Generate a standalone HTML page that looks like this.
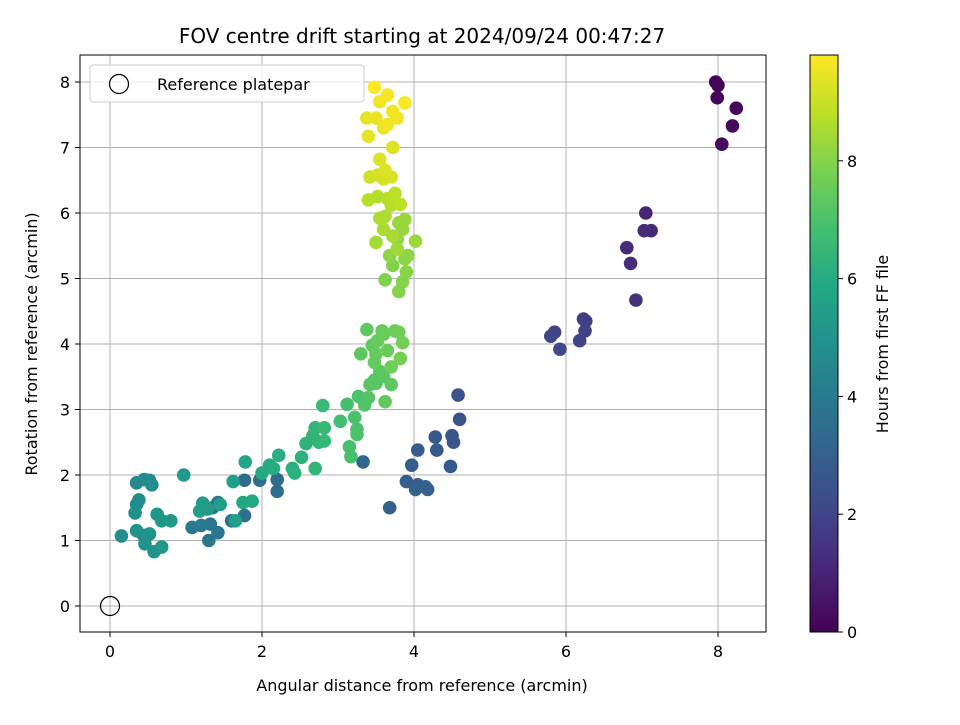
<!DOCTYPE html>
<html><head><meta charset="utf-8"><style>
body{margin:0;background:#fff;font-family:"Liberation Sans","DejaVu Sans",sans-serif;}
svg text{font-family:"DejaVu Sans","Liberation Sans",sans-serif;fill:#000}
</style></head><body>
<svg id="chart" width="960" height="720" xmlns="http://www.w3.org/2000/svg">
<defs><linearGradient id="vir" x1="0" y1="1" x2="0" y2="0">
<stop offset="0" stop-color="#440154"/><stop offset="0.1" stop-color="#482475"/><stop offset="0.2" stop-color="#414487"/><stop offset="0.3" stop-color="#355f8d"/><stop offset="0.4" stop-color="#2a788e"/><stop offset="0.5" stop-color="#21918c"/><stop offset="0.6" stop-color="#22a884"/><stop offset="0.7" stop-color="#44bf70"/><stop offset="0.8" stop-color="#7ad151"/><stop offset="0.9" stop-color="#bddf26"/><stop offset="1" stop-color="#fde725"/>
</linearGradient></defs>
<text x="422" y="43" font-size="20" text-anchor="middle">FOV centre drift starting at 2024/09/24 00:47:27</text>
<g id="grid"></g>
<g id="pts"></g>
<rect x="80" y="55" width="686" height="577" fill="none" stroke="#000" stroke-width="1"/>
<g id="ticks"></g>
<text x="422" y="691" font-size="16" text-anchor="middle">Angular distance from reference (arcmin)</text>
<text x="37" y="344" font-size="16" text-anchor="middle" transform="rotate(-90 37 344)">Rotation from reference (arcmin)</text>
<g>
<rect x="90" y="65" width="274" height="37" rx="3" fill="#fff" fill-opacity="0.8" stroke="#ccc"/>
<circle cx="119" cy="84" r="9.5" fill="none" stroke="#000" stroke-width="1.2"/>
<text x="157" y="90" font-size="16">Reference platepar</text>
</g>
<rect x="810" y="55" width="28" height="577" fill="url(#vir)" stroke="#000" stroke-width="1"/>
<g id="cbticks"></g>
<text x="888" y="344" font-size="16" text-anchor="middle" transform="rotate(-90 888 344)">Hours from first FF file</text>
</svg>
<script>
const xTicks=[0,2,4,6,8];
const yTicks=[0,1,2,3,4,5,6,7,8];
const cTicks=[0,2,4,6,8];
const xs=[7.97,8.0,7.99,8.24,8.19,8.05, 7.05,7.12,7.03,6.8,6.85,6.92, 6.23,6.26,6.25,6.18,5.85,5.8,5.92,
4.58,4.6,4.5,4.52,4.28,4.3,4.05,3.97,4.48,3.9,4.05,4.15,4.18,4.02,3.68,3.33,
1.77,2.2,2.2,1.97,1.77,1.6,1.42,1.42,1.32,1.3,1.35,1.2,1.08,
0.35,0.45,0.52,0.55,0.38,0.35,0.33,0.35,0.44,0.52,0.46,0.58,0.62,0.68,0.68,0.8,0.15,0.97,1.22,1.28,1.18,1.45,1.62,1.65,
1.78,1.75,1.87,2.0,2.1,2.15,2.22,2.4,2.43,2.52,2.58,2.67,2.7,2.7,2.75,2.82,2.82,2.8,
3.03,3.12,3.15,3.17,3.22,3.25,3.27,3.25,3.35,3.4,3.42,3.48,3.5,3.55,3.6,3.7,3.62,3.3,3.38,3.45,3.5,3.52,3.58,3.6,3.65,3.7,3.75,3.8,3.85,3.82,3.48,
3.62,3.72,3.8,3.85,3.9,3.88,3.92,3.68,3.78,3.85,3.88,3.8,4.02,3.78,3.5,3.72,3.6,3.55,3.62,3.7,3.4,3.52,3.65,3.75,3.82,
3.42,3.52,3.6,3.7,3.62,3.55,3.72,3.4,3.38,3.5,3.6,3.65,3.72,3.78,3.55,3.65,3.88,3.48];
const ys=[8.0,7.95,7.76,7.6,7.33,7.05, 6.0,5.73,5.73,5.47,5.23,4.67, 4.38,4.35,4.2,4.05,4.18,4.12,3.92,
3.22,2.85,2.6,2.5,2.58,2.38,2.38,2.15,2.13,1.9,1.85,1.82,1.78,1.78,1.5,2.2,
1.92,1.93,1.75,1.92,1.38,1.3,1.58,1.12,1.25,1.0,1.5,1.23,1.2,
1.88,1.93,1.92,1.85,1.62,1.55,1.42,1.15,1.08,1.1,0.95,0.83,1.4,1.3,0.9,1.3,1.07,2.0,1.57,1.48,1.45,1.55,1.9,1.3,
2.2,1.58,1.6,2.03,2.15,2.1,2.3,2.1,2.03,2.27,2.48,2.6,2.1,2.72,2.5,2.52,2.72,3.06,
2.82,3.08,2.43,2.28,2.88,2.7,3.2,2.62,3.07,3.18,3.38,3.45,3.4,3.58,3.5,3.38,3.12,3.85,4.22,3.98,3.85,4.05,4.2,4.15,3.9,3.65,4.2,4.18,4.02,3.78,3.72,
4.98,5.2,4.8,4.95,5.1,5.3,5.35,5.35,5.6,5.75,5.9,5.85,5.57,5.45,5.55,5.65,5.75,5.92,5.95,6.12,6.2,6.25,6.22,6.3,6.13,
6.55,6.58,6.52,6.55,6.65,6.82,7.0,7.17,7.45,7.45,7.3,7.35,7.55,7.45,7.7,7.8,7.68,7.92];
const hours=[0.05,0.1,0.15,0.2,0.25,0.3, 1.0,1.1,1.15,1.2,1.3,1.4, 1.8,1.85,1.9,1.95,2.0,2.05,2.1,
2.5,2.55,2.6,2.65,2.7,2.75,2.8,2.85,2.75,2.9,2.95,3.0,3.0,3.05,3.1,3.3,
3.4,3.45,3.5,3.55,3.6,3.7,3.75,3.8,3.85,3.9,3.9,3.95,4.0,
4.6,4.65,4.7,4.7,4.75,4.8,4.85,4.9,4.95,5.0,5.0,5.05,5.1,5.15,5.2,5.25,4.7,5.3,5.35,5.35,5.4,5.45,5.5,5.5,
5.8,5.85,5.9,5.95,6.0,6.05,6.1,6.15,6.2,6.25,6.3,6.35,6.4,6.4,6.45,6.5,6.5,6.55,
6.8,6.85,6.9,6.9,6.95,7.0,7.0,7.05,7.1,7.15,7.2,7.2,7.25,7.3,7.3,7.35,7.4,7.3,7.35,7.4,7.45,7.5,7.5,7.55,7.55,7.6,7.6,7.65,7.7,7.7,7.45,
7.9,7.95,8.0,8.0,8.05,8.1,8.1,8.15,8.2,8.25,8.3,8.3,8.35,8.4,8.45,8.5,8.55,8.6,8.6,8.65,8.7,8.7,8.75,8.8,8.8,
9.1,9.15,9.2,9.25,9.3,9.3,9.35,9.4,9.45,9.5,9.5,9.55,9.6,9.6,9.65,9.7,9.75,9.8];
const NS="http://www.w3.org/2000/svg";
const X=v=>110+v*76, Y=v=>606-v*65.5, CB=v=>632-v*58.9;
const stops=["#440154","#482475","#414487","#355f8d","#2a788e","#21918c","#22a884","#44bf70","#7ad151","#bddf26","#fde725"];
function hex(h){return [1,3,5].map(i=>parseInt(h.substr(i,2),16));}
function vir(t){t=Math.max(0,Math.min(1,t));const f=t*10,i=Math.min(9,Math.floor(f)),r=f-i;const a=hex(stops[i]),b=hex(stops[i+1]);return "rgb("+a.map((c,k)=>Math.round(c+(b[k]-c)*r)).join(",")+")";}
function mk(tag,at,parent){const e=document.createElementNS(NS,tag);for(const k in at)e.setAttribute(k,at[k]);parent.appendChild(e);return e;}
const grid=document.getElementById("grid"),ticks=document.getElementById("ticks"),pts=document.getElementById("pts"),cbt=document.getElementById("cbticks");
xTicks.forEach(v=>{const g=mk("line",{x1:X(v),x2:X(v),y1:55,y2:632,stroke:"#b0b0b0","stroke-width":1},grid);


mk("line",{x1:X(v),x2:X(v),y1:632,y2:637,stroke:"#000"},ticks);
const t=mk("text",{x:X(v),y:657,"font-size":16,"text-anchor":"middle"},ticks);t.textContent=v;

});
yTicks.forEach(v=>{const g=mk("line",{x1:80,x2:766,y1:Y(v),y2:Y(v),stroke:"#b0b0b0","stroke-width":1},grid);


mk("line",{x1:75,x2:80,y1:Y(v),y2:Y(v),stroke:"#000"},ticks);
const t=mk("text",{x:70,y:Y(v)+6,"font-size":16,"text-anchor":"end"},ticks);t.textContent=v;

});
cTicks.forEach(v=>{mk("line",{x1:838,x2:843,y1:CB(v),y2:CB(v),stroke:"#000"},cbt);
const t=mk("text",{x:847,y:CB(v)+6,"font-size":16},cbt);t.textContent=v;

});
const ref=mk("circle",{cx:X(0),cy:Y(0),r:9.5,fill:"none",stroke:"#000","stroke-width":1.2},pts);


xs.forEach((x,i)=>{const c=mk("circle",{cx:X(x),cy:Y(ys[i]),r:6.8,fill:vir(hours[i]/9.8)},pts);

});
</script>
</body></html>
